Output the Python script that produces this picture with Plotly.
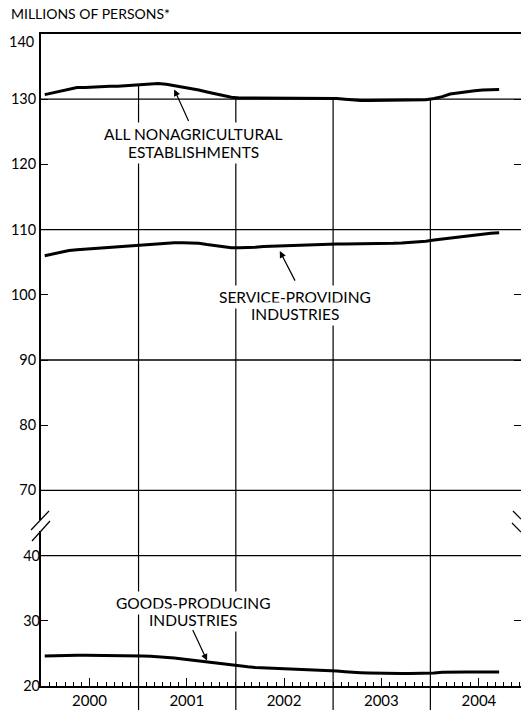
import pandas as pd
import plotly.graph_objects as go

# ---- data (millions of persons, monthly, Jan 2000 - Sep 2004) ----
all_nonag = [
    130.7, 131.0, 131.3, 131.6, 131.8, 131.8, 131.9, 131.9, 132.0, 132.0, 132.1, 132.2,
    132.3, 132.4, 132.4, 132.3, 132.1, 131.9, 131.7, 131.4, 131.1, 130.8, 130.5, 130.3,
    130.2, 130.2, 130.2, 130.1, 130.1, 130.2, 130.2, 130.2, 130.1, 130.2, 130.2, 130.1,
    130.1, 130.0, 129.9, 129.8, 129.8, 129.8, 129.8, 129.8, 129.8, 129.8, 129.9, 129.9,
    130.1, 130.4, 130.8, 131.0, 131.2, 131.3, 131.4, 131.4, 131.5,
]
service = [
    106.0, 106.3, 106.6, 106.8, 106.9, 107.0, 107.1, 107.2, 107.3, 107.4, 107.5, 107.6,
    107.7, 107.8, 107.9, 108.0, 108.0, 108.0, 108.0, 107.9, 107.7, 107.5, 107.3, 107.2,
    107.2, 107.2, 107.3, 107.4, 107.45, 107.5, 107.6, 107.6, 107.7, 107.7, 107.75, 107.8,
    107.8, 107.8, 107.8, 107.8, 107.8, 107.85, 107.9, 107.9, 107.95, 108.0, 108.1, 108.2,
    108.4, 108.55, 108.7, 108.9, 109.1, 109.25, 109.35, 109.45, 109.5,
]
goods = [
    24.6, 24.65, 24.7, 24.7, 24.7, 24.7, 24.7, 24.7, 24.65, 24.65, 24.65, 24.65,
    24.6, 24.55, 24.5, 24.4, 24.3, 24.15, 24.0, 23.85, 23.7, 23.5, 23.3, 23.15,
    23.05, 22.95, 22.85, 22.8, 22.75, 22.65, 22.6, 22.55, 22.5, 22.45, 22.4, 22.35,
    22.3, 22.2, 22.1, 22.05, 22.0, 21.95, 21.95, 21.9, 21.9, 21.9, 21.9, 21.95,
    22.0, 22.1, 22.15, 22.15, 22.15, 22.15, 22.15, 22.15, 22.15,
]
years = ["2000", "2001", "2002", "2003", "2004"]
upper_ticks = [70, 80, 90, 100, 110, 120, 130, 140]
upper_ticktext = ["70", "80", "90", "100", "110", "120", "130", ""]
top_label = "140"
lower_ticks = [20, 30, 40]
upper_grid = [70, 90, 110, 130]
lower_grid = [40]

months = pd.date_range("2000-01-01", periods=len(all_nonag), freq="MS") + pd.Timedelta(days=14)
year_mid = [f"{y}-07-01" for y in years]
year_bounds = [f"{y}-01-01" for y in years[1:]]

FONT = "Lato"
BLACK = "#000000"
Y_RANGE = [40, 140]
Y2_RANGE = [20, 120]

fig = go.Figure()
line_style = dict(color=BLACK, width=3)
fig.add_trace(go.Scatter(x=months, y=all_nonag, mode="lines", line=line_style, yaxis="y"))
fig.add_trace(go.Scatter(x=months, y=service, mode="lines", line=line_style, yaxis="y"))
fig.add_trace(go.Scatter(x=months, y=goods, mode="lines", line=line_style, yaxis="y2"))

shapes = []
# horizontal grid lines
for v in upper_grid:
    shapes.append(dict(type="line", xref="paper", yref="y", x0=0, x1=1, y0=v, y1=v,
                       line=dict(color=BLACK, width=1.3), layer="below"))
for v in lower_grid:
    shapes.append(dict(type="line", xref="paper", yref="y2", x0=0, x1=1, y0=v, y1=v,
                       line=dict(color=BLACK, width=1.3), layer="below"))
# year separator lines (extend below axis through label row)
for i, b in enumerate(year_bounds):
    idx = 12 * (i + 1)
    top_val = max(130, (all_nonag[idx - 1] + all_nonag[idx]) / 2)
    y1 = (top_val - Y_RANGE[0]) / (Y_RANGE[1] - Y_RANGE[0])
    shapes.append(dict(type="line", xref="x", yref="paper", x0=b, x1=b, y0=-0.04, y1=y1,
                       line=dict(color=BLACK, width=1.2)))

# axis break marks
def px2paper_x(px):
    return (px - 41) / 480.0

def px2paper_y(py):
    return (686 - py) / 652.0

shapes.append(dict(type="rect", xref="paper", yref="paper",
                   x0=px2paper_x(38), x1=px2paper_x(44), y0=px2paper_y(531), y1=px2paper_y(520),
                   line=dict(width=0), fillcolor="white"))
for (xa, ya, xb, yb) in [(31, 530, 49, 511), (32, 541, 50, 521),
                         (513, 511, 521, 519), (512, 523, 521, 532)]:
    shapes.append(dict(type="line", xref="paper", yref="paper",
                       x0=px2paper_x(xa), y0=px2paper_y(ya), x1=px2paper_x(xb), y1=px2paper_y(yb),
                       line=dict(color=BLACK, width=1.2)))

label_font = dict(family=FONT, size=15.5, color=BLACK)
tick_font = dict(family=FONT, size=14.5, color=BLACK)

def label(text, x, y, yref):
    return dict(text=text, xref="x", yref=yref, x=x, y=y, showarrow=False,
                font=label_font, bgcolor="white", borderpad=2)

annotations = [
    dict(text="MILLIONS OF PERSONS*", xref="paper", yref="paper",
         x=px2paper_x(9), y=px2paper_y(14), xanchor="left", yanchor="middle",
         showarrow=False, font=dict(family=FONT, size=14, color=BLACK)),
    dict(text=top_label, xref="paper", yref="y", x=px2paper_x(36), y=140,
         xanchor="right", yanchor="middle", yshift=-7, showarrow=False, font=tick_font),
    label("ALL NONAGRICULTURAL", "2001-07-27", 140 - (133 - 33.5) / 6.52, "y"),
    label("ESTABLISHMENTS", "2001-07-27", 140 - (151 - 33.5) / 6.52, "y"),
    label("SERVICE-PROVIDING", "2002-08-11", 140 - (296.5 - 33.5) / 6.52, "y"),
    label("INDUSTRIES", "2002-08-11", 140 - (313 - 33.5) / 6.52, "y"),
    label("GOODS-PRODUCING", "2001-07-24", 20 + (686 - 603) / 6.52, "y2"),
    label("INDUSTRIES", "2001-07-24", 20 + (686 - 619.5) / 6.52, "y2"),
    # arrows
    dict(text="", xref="x", yref="y", x=months[16], y=all_nonag[16] - 0.6,
         ax=15, ay=33, showarrow=True, arrowhead=2, arrowsize=1.1, arrowwidth=1.2,
         arrowcolor=BLACK),
    dict(text="", xref="x", yref="y", x=months[29], y=service[29] - 0.8,
         ax=16, ay=31, showarrow=True, arrowhead=2, arrowsize=1.1, arrowwidth=1.2,
         arrowcolor=BLACK),
    dict(text="", xref="x", yref="y2", x=months[20], y=goods[20] + 0.2,
         ax=-15, ay=-32, showarrow=True, arrowhead=2, arrowsize=1.1, arrowwidth=1.2,
         arrowcolor=BLACK),
]

fig.update_layout(
    width=521, height=710,
    margin=dict(l=41, r=0, t=34, b=24),
    paper_bgcolor="white", plot_bgcolor="white",
    showlegend=False,
    shapes=shapes, annotations=annotations,
    xaxis=dict(
        range=["2000-01-01", "2004-12-06"], type="date",
        tickmode="array", tickvals=year_mid, ticktext=years,
        ticks="inside", ticklen=8, tickwidth=1.2, tickcolor=BLACK,
        minor=dict(dtick="M1", tick0="2000-01-01", ticks="inside", ticklen=4,
                   tickwidth=1.2, tickcolor=BLACK, showgrid=False),
        showgrid=False, zeroline=False,
        showline=True, linecolor=BLACK, linewidth=2, mirror=True,
        tickfont=dict(family=FONT, size=15, color=BLACK), automargin=False,
    ),
    yaxis=dict(
        range=Y_RANGE, tickmode="array", tickvals=upper_ticks, ticktext=upper_ticktext,
        ticks="inside", ticklen=7, tickwidth=1.2, tickcolor=BLACK,
        showgrid=False, zeroline=False,
        showline=True, linecolor=BLACK, linewidth=1.8, mirror="ticks",
        tickfont=tick_font, automargin=False,
    ),
    yaxis2=dict(
        range=Y2_RANGE, overlaying="y", side="left",
        tickmode="array", tickvals=lower_ticks,
        ticks="inside", ticklen=7, tickwidth=1.2, tickcolor=BLACK,
        showgrid=False, zeroline=False, showline=False, mirror="ticks",
        tickfont=tick_font, automargin=False,
    ),
)

fig.write_html("out.html", config={"displayModeBar": False},
               post_script="document.body.style.margin='0';document.body.style.overflow='hidden';")
